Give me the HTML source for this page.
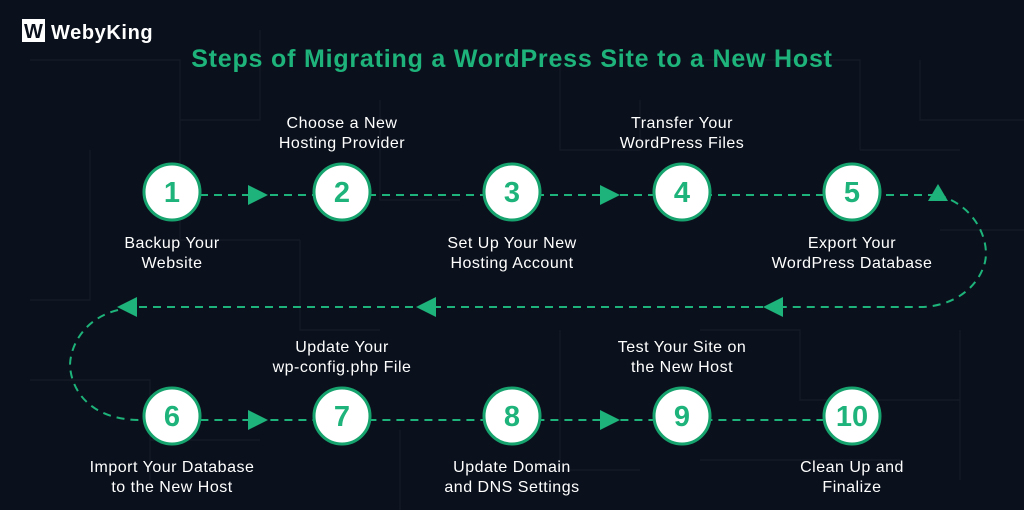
<!DOCTYPE html>
<html><head><meta charset="utf-8"><style>
body{margin:0;width:1024px;height:510px;overflow:hidden;background:#0b111c;font-family:"Liberation Sans",sans-serif}
svg{position:absolute;left:0;top:0}
</style></head><body>
<svg width="1024" height="510" viewBox="0 0 1024 510">
<rect width="1024" height="510" fill="#0b111c"/>
<g stroke="#151c28" stroke-width="1.2" fill="none">
<path d="M30 60H180V120H260V30M90 150V300H30M180 120V240H300M300 240V330H380M380 100V200H460M560 60V150H640V100M700 60H860V150M860 150H960M920 60V120H1024M940 230H1024M700 330H800V400H960M960 330V480M30 380H150V480M150 440H260M400 430V510M560 330V470H640M700 460H900"/>
</g>
<g fill="#ffffff" font-weight="bold">
<rect x="22" y="19" width="23" height="23" fill="#fff"/>
<text x="24" y="38" font-size="20" fill="#0b111c" font-family="Liberation Sans">W</text>
<text x="51" y="39" font-size="20" letter-spacing="0.6">WebyKing</text>
</g>
<text x="512" y="67" text-anchor="middle" font-size="25" font-weight="bold" fill="#1db37a" letter-spacing="0.8">Steps of Migrating a WordPress Site to a New Host</text>
<g stroke="#1db37a" stroke-width="2" fill="none" stroke-dasharray="8 6">
<path d="M200 195H935"/>
<path d="M938 195C975 205 990 240 985 262C978 290 950 307 920 307H770"/>
<path d="M125 307H770"/>
<path d="M118 310C85 318 70 345 70 366C72 395 95 420 140 420H880"/>
</g>
<g fill="#1db37a">
<path d="M248 185L268 195L248 205Z"/>
<path d="M600 185L620 195L600 205Z"/>
<path d="M928 201L938 184L948 201Z"/>
<path d="M783 297L763 307L783 317Z"/>
<path d="M436 297L416 307L436 317Z"/>
<path d="M137 297L117 307L137 317Z"/>
<path d="M248 410L268 420L248 430Z"/>
<path d="M600 410L620 420L600 430Z"/>
</g>
<g fill="#fff" stroke="#17a36e" stroke-width="3">
<circle cx="172" cy="192" r="28"/><circle cx="342" cy="192" r="28"/><circle cx="512" cy="192" r="28"/><circle cx="682" cy="192" r="28"/><circle cx="852" cy="192" r="28"/>
<circle cx="172" cy="416" r="28"/><circle cx="342" cy="416" r="28"/><circle cx="512" cy="416" r="28"/><circle cx="682" cy="416" r="28"/><circle cx="852" cy="416" r="28"/>
</g>
<g fill="#1db37a" font-size="29" font-weight="bold" text-anchor="middle">
<text x="172" y="202">1</text><text x="342" y="202">2</text><text x="512" y="202">3</text><text x="682" y="202">4</text><text x="852" y="202">5</text>
<text x="172" y="426">6</text><text x="342" y="426">7</text><text x="512" y="426">8</text><text x="682" y="426">9</text><text x="852" y="426">10</text>
</g>
<g fill="#fff" font-size="16" text-anchor="middle" letter-spacing="0.5">
<text x="342" y="128">Choose a New</text><text x="342" y="148">Hosting Provider</text>
<text x="682" y="128">Transfer Your</text><text x="682" y="148">WordPress Files</text>
<text x="172" y="248">Backup Your</text><text x="172" y="268">Website</text>
<text x="512" y="248">Set Up Your New</text><text x="512" y="268">Hosting Account</text>
<text x="852" y="248">Export Your</text><text x="852" y="268">WordPress Database</text>
<text x="342" y="352">Update Your</text><text x="342" y="372">wp-config.php File</text>
<text x="682" y="352">Test Your Site on</text><text x="682" y="372">the New Host</text>
<text x="172" y="472">Import Your Database</text><text x="172" y="492">to the New Host</text>
<text x="512" y="472">Update Domain</text><text x="512" y="492">and DNS Settings</text>
<text x="852" y="472">Clean Up and</text><text x="852" y="492">Finalize</text>
</g>
</svg>
</body></html>
